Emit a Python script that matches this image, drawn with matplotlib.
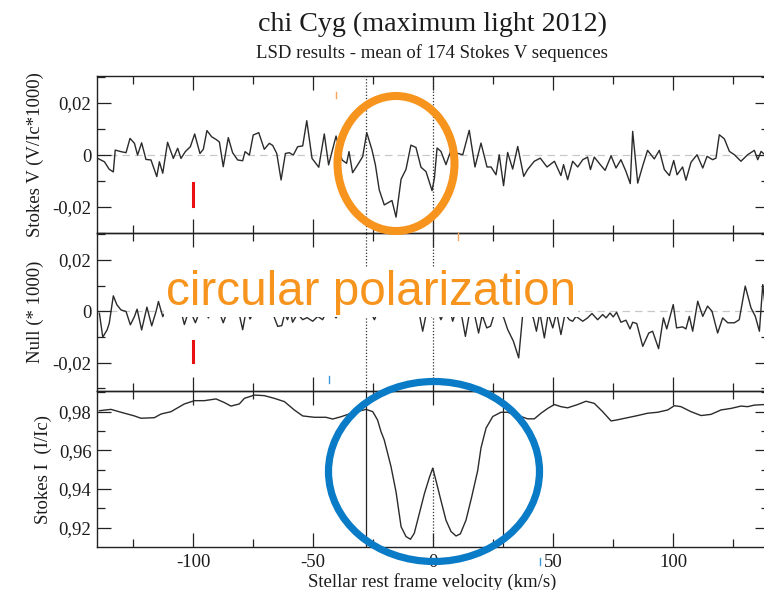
import matplotlib
matplotlib.use("Agg")
import matplotlib.pyplot as plt
from matplotlib.patches import Ellipse
from matplotlib.lines import Line2D
from matplotlib.ticker import FixedLocator, FixedFormatter

# ---------------------------------------------------------------- data
# Stokes V profile (velocity in km/s, signal in units of 1e-3)
stokes_v_vel = [
    -139.7, -136.9, -134.9, -133.2, -132.4, -130.0, -127.9, -126.25, -124.4, -123.1,
    -121.4, -119.6, -117.5, -115.1, -114.0, -112.6, -110.6, -108.2, -106.4, -105.0,
    -103.2, -101.1, -99.3, -97.1, -95.7, -94.2, -92.2, -90.4, -89.0, -87.4,
    -85.3, -83.5, -81.4, -79.3, -78.3, -76.5, -74.9, -72.6, -70.3, -68.2,
    -66.8, -65.1, -63.3, -61.5, -59.9, -58.2, -56.4, -54.3, -52.6, -50.4,
    -47.6, -45.3, -43.5, -40.4, -37.9, -36.0, -35.0, -33.5, -31.4, -29.3,
    -27.6, -25.4, -24.0, -22.4, -20.3, -17.1, -15.4, -13.3, -11.25, -9.2,
    -7.1, -5.0, -2.9, -0.4, 0.6, 1.7, 3.3, 5.4, 7.8, 9.6,
    12.4, 15.1, 17.5, 20.0, 22.5, 24.2, 26.25, 27.6, 29.4, 31.1,
    33.2, 35.3, 37.8, 39.4, 42.2, 44.7, 47.5, 50.6, 53.3, 54.4,
    56.1, 58.2, 60.3, 62.4, 64.4, 65.6, 67.2, 69.7, 71.7, 74.2,
    76.25, 78.3, 80.4, 82.2, 83.2, 85.3, 87.4, 89.4, 92.2, 94.3,
    96.4, 98.5, 100.3, 101.7, 104.0, 105.4, 107.5, 110.0, 112.4, 114.2,
    116.5, 117.9, 119.3, 121.4, 123.5, 125.6, 128.3, 131.1, 133.9, 135.3,
    136.7, 138.3,
]
stokes_v_val = [
    -1.3, -2.6, -5.5, -6.5, 1.9, 1.3, 0.9, 6.4, 4.5, 0.0,
    4.7, -1.7, -1.9, -8.3, -2.6, -7.0, 4.9, -1.3, 2.6, -1.3,
    1.3, 3.2, 8.1, 0.6, 2.2, 9.4, 7.0, 6.0, 5.0, -4.5,
    6.7, 0.9, -1.9, -2.2, 1.3, 0.0, 7.7, 8.6, 2.2, 4.5,
    3.7, 0.6, -9.6, 0.6, 0.9, 0.0, 3.2, 3.5, 13.2, -1.3,
    -4.7, 8.1, -3.8, 7.3, -1.9, -3.2, 1.3, -6.8, -3.8, -0.6,
    8.6, 1.9, -3.8, -13.4, -19.2, -17.5, -23.9, -9.3, -5.5, 3.8,
    2.9, -4.7, -6.4, -13.7, -8.8, 2.7, 1.4, -3.7, 2.7, 0.8,
    0.1, 9.5, -4.6, 4.6, -4.6, -4.6, -7.6, 0.1, -11.8, 1.0,
    -5.4, 3.3, -8.2, -5.6, -2.4, -1.2, -4.6, -2.4, -7.9, -3.7,
    -9.5, -2.4, -4.6, -1.8, -0.8, -5.6, -0.8, -3.7, -5.9, -0.3,
    -5.0, -1.8, -6.3, -11.0, 9.1, -10.8, -4.1, 1.8, -1.5, 1.8,
    -5.6, -7.9, -2.1, -7.6, -4.6, -9.7, -2.8, 0.1, -5.0, -0.5,
    -1.8, -1.2, 7.8, 6.2, 1.4, 0.1, -2.4, 0.1, 1.8, -1.8,
    1.4, 0.1,
]

# Null profile (velocity in km/s, signal in units of 1e-3)
null_vel = [
    -139.0, -137.6, -135.8, -134.9, -133.2, -131.7, -130.0, -127.9, -126.1, -124.4,
    -123.3, -121.4, -119.2, -117.2, -115.4, -114.4, -112.6, -110.5, -108.0, -105.5,
    -103.6, -101.5, -99.0, -97.0, -95.5, -93.6, -91.5, -89.5, -87.4, -85.5,
    -83.0, -81.0, -79.3, -77.8, -76.2, -74.0, -72.0, -70.0, -68.0, -66.5,
    -64.7, -63.0, -61.8, -60.6, -59.5, -58.5, -56.5, -54.3, -52.5, -50.1,
    -48.0, -46.0, -44.0, -42.0, -40.4, -38.0, -36.0, -34.0, -32.0, -30.0,
    -28.0, -26.3, -24.4, -22.5, -20.5, -18.8, -17.1, -15.0, -13.0, -11.0,
    -9.0, -7.0, -5.7, -4.3, -2.5, -0.6, 1.5, 3.3, 5.5, 7.0,
    8.2, 10.0, 11.5, 13.5, 15.5, 17.0, 19.0, 20.5, 22.4, 24.0,
    26.0, 28.0, 29.5, 31.1, 33.5, 35.7, 37.4, 39.5, 41.8, 43.1,
    44.5, 46.4, 48.0, 49.9, 51.5, 53.3, 55.0, 56.8, 58.2, 59.6,
    62.4, 64.4, 66.25, 68.6, 70.7, 72.1, 73.75, 75.1, 76.5, 78.3,
    80.4, 82.1, 83.2, 84.9, 87.4, 89.9, 91.5, 94.0, 96.0, 97.4,
    100.1, 101.5, 104.0, 105.4, 106.8, 108.2, 110.3, 112.4, 114.4, 116.25,
    118.6, 120.7, 122.8, 125.6, 127.6, 130.1, 132.5, 134.3, 136.0, 137.4,
    138.4,
]
null_val = [
    -0.8, -10.1, -7.3, -4.7, 6.0, 2.5, 0.5, -0.1, -5.3, -2.1,
    0.8, -7.3, 1.6, -5.7, -0.1, 3.8, -2.1, 1.5, -1.0, 2.0,
    -5.2, 1.0, -4.5, 0.5, 1.8, -2.6, 1.5, 0.8, -4.5, 0.5,
    1.5, 0.0, -7.2, 0.5, -3.0, 1.0, 2.0, 0.5, 1.0, -1.5,
    -5.9, -5.6, -1.0, -3.3, 0.0, -4.3, -1.0, -3.3, -2.5, -3.9,
    -2.0, -3.3, 0.5, -0.5, -2.6, 1.0, 2.0, 0.5, 1.5, 0.0,
    1.0, 0.0, -3.3, 1.0, 0.0, 1.0, -2.0, 1.0, 0.5, 1.5,
    0.0, 1.0, -1.0, -7.8, 0.5, -2.2, 1.0, -3.3, 1.5, 0.5,
    -3.9, 1.5, 0.5, -9.8, 1.0, 0.0, -8.5, -1.5, -6.5, -5.8,
    0.5, 0.0, -2.6, -7.1, -11.7, -18.2, -1.0, 1.0, -2.6, -7.8,
    -0.5, -10.4, -1.0, -6.5, -0.5, -9.1, -1.0, -3.3, -3.9, -2.0,
    -3.9, -2.6, -0.9, -3.3, -1.3, -2.6, -0.7, -2.2, -0.4, -4.3,
    -3.5, -6.9, -4.3, -4.8, -13.7, -8.5, -7.8, -14.6, -2.6, -6.9,
    2.6, -6.5, -6.1, -6.9, -2.0, -7.8, 3.9, -2.0, 2.0, 0.0,
    -8.5, -2.6, -4.5, -4.5, -3.3, 9.8, 1.3, -2.0, -7.8, 10.4,
    1.9,
]

# Stokes I profile (velocity in km/s, I/Ic)
stokes_i_vel = [
    -139.0, -134.2, -130.0, -124.4, -121.7, -116.1, -113.3, -109.2, -103.6, -99.4,
    -95.3, -90.4, -86.9, -84.2, -80.7, -78.6, -74.4, -70.3, -66.1, -61.9,
    -57.8, -54.3, -49.4, -44.6, -41.8, -38.3, -32.8, -27.9, -25.1, -23.1,
    -21.7, -20.3, -17.5, -15.4, -13.3, -11.25, -9.4, -7.8, -5.7, -3.6,
    -1.5, -0.1, 1.25, 3.3, 5.4, 7.5, 9.6, 11.4, 13.75, 16.1,
    18.6, 20.0, 22.1, 24.9, 28.3, 31.1, 33.9, 36.7, 39.4, 42.2,
    45.0, 47.8, 50.6, 53.3, 56.1, 60.3, 63.75, 67.2, 70.7, 74.2,
    76.9, 81.1, 85.3, 89.4, 93.6, 97.8, 100.6, 103.3, 107.5, 111.7,
    115.8, 120.0, 124.2, 128.3, 131.1, 133.9, 138.1,
]
stokes_i_val = [
    0.9805, 0.9812, 0.9797, 0.9778, 0.9766, 0.9769, 0.9788, 0.9800, 0.9840, 0.9857,
    0.9857, 0.9866, 0.9847, 0.9829, 0.9840, 0.9869, 0.9886, 0.9883, 0.9869, 0.9852,
    0.9809, 0.9778, 0.9771, 0.9771, 0.9762, 0.9774, 0.9797, 0.9812, 0.9800, 0.9757,
    0.9698, 0.9653, 0.9516, 0.9385, 0.9205, 0.9154, 0.9140, 0.9171, 0.9273, 0.9375,
    0.9460, 0.9508, 0.9443, 0.9341, 0.9239, 0.9180, 0.9157, 0.9168, 0.9239, 0.9358,
    0.9494, 0.9613, 0.9715, 0.9775, 0.9797, 0.9797, 0.9783, 0.9775, 0.9763, 0.9763,
    0.9792, 0.9817, 0.9837, 0.9826, 0.9820, 0.9837, 0.9854, 0.9843, 0.9800, 0.9752,
    0.9758, 0.9769, 0.9780, 0.9792, 0.9797, 0.9809, 0.9831, 0.9826, 0.9800, 0.9780,
    0.9786, 0.9809, 0.9817, 0.9829, 0.9826, 0.9834, 0.9837,
]

# integration window limits and line centre (km/s)
window_lo = -28.0
window_hi = 29.0
line_centre = 0.0
centre_intensity = 0.9508

# axis ticks
vel_major = [-100, -50, 0, 50, 100]
vel_major_labels = ["-100", "-50", "0", "50", "100"]
vel_minor = [-125, -75, -25, 25, 75, 125]
pol_major = [-0.02, 0.0, 0.02]
pol_major_labels = ["-0,02", "0", "0,02"]
pol_minor = [-0.03, -0.01, 0.01, 0.03]
int_major = [0.92, 0.94, 0.96, 0.98]
int_major_labels = ["0,92", "0,94", "0,96", "0,98"]
int_minor = [0.93, 0.95, 0.97, 0.99]

# ---------------------------------------------------------------- style
plt.rcParams["font.family"] = ["Liberation Serif", "DejaVu Serif"]
W, H = 764, 590
fig = plt.figure(figsize=(W / 100, H / 100), dpi=100)
fig.patch.set_facecolor("white")

LINE = "#2b2b2b"
TXT = "#1c1c1c"
ORANGE = "#F7941D"
BLUE = "#0A7BC6"


def rect(left, top, right, bottom):
    return [left / W, 1 - bottom / H, (right - left) / W, (bottom - top) / H]


def style_axes(ax, ylim, ymaj, ylab, ymin, show_x):
    ax.set_xlim(-140, 140)
    ax.set_ylim(*ylim)
    ax.xaxis.set_major_locator(FixedLocator(vel_major))
    ax.xaxis.set_minor_locator(FixedLocator(vel_minor))
    ax.xaxis.set_major_formatter(FixedFormatter(vel_major_labels if show_x else [""] * 5))
    ax.yaxis.set_major_locator(FixedLocator(ymaj))
    ax.yaxis.set_minor_locator(FixedLocator(ymin))
    ax.yaxis.set_major_formatter(FixedFormatter(ylab))
    ax.tick_params(which="both", direction="in", top=True, right=True,
                   width=0.9, color="#222222", labelcolor=TXT, labelsize=13.5)
    ax.tick_params(which="major", length=10, pad=4)
    ax.tick_params(which="minor", length=6)
    ax.tick_params(axis="x", which="major", pad=5)
    for s in ax.spines.values():
        s.set_linewidth(1.0)
        s.set_color("#222222")
    ax.set_facecolor("none")


# ---------------------------------------------------------------- Stokes V
ax_v = fig.add_axes(rect(97, 76, 769, 233))
style_axes(ax_v, (-0.030, 0.0304), pol_major, pol_major_labels, pol_minor, False)
ax_v.axhline(0, color="#c8c8c8", lw=0.9, ls=(0, (6, 4)), zorder=1)
for x in (window_lo, line_centre):
    ax_v.axvline(x, color="#333333", lw=0.9, ls=(0, (1, 1.5)), zorder=2)
ax_v.plot(stokes_v_vel, [v * 1e-3 for v in stokes_v_val], color=LINE, lw=1.0, zorder=3)
ax_v.plot([-100, -100], [-0.0108, -0.0196], color="#e81010", lw=2.2, zorder=4)
ax_v.plot([-40.4, -40.4], [0.0242, 0.0219], color="#f6a55a", lw=1.0, zorder=4)
ax_v.set_ylabel("Stokes V (V/Ic*1000)", fontsize=13.5, color=TXT)
ax_v.yaxis.set_label_coords(-0.079, 0.5)

# ---------------------------------------------------------------- Null
ax_n = fig.add_axes(rect(97, 233, 769, 391))
style_axes(ax_n, (-0.0311, 0.0305), pol_major, pol_major_labels, pol_minor, False)
ax_n.axhline(0, color="#c8c8c8", lw=0.9, ls=(0, (6, 4)), zorder=1)
for x in (window_lo, line_centre):
    ax_n.axvline(x, color="#333333", lw=0.9, ls=(0, (1, 1.5)), zorder=2)
ax_n.plot(null_vel, [v * 1e-3 for v in null_val], color=LINE, lw=1.0, zorder=3)
ax_n.plot([-100, -100], [-0.0115, -0.0196], color="#e81010", lw=2.2, zorder=4)
ax_n.plot([10.4, 10.4], [0.0305, 0.0278], color="#f6a55a", lw=1.0, zorder=4, clip_on=False)
ax_n.plot([-43.3, -43.3], [-0.0252, -0.0280], color="#3a9ad9", lw=1.0, zorder=4)
ax_n.set_ylabel("Null (* 1000)", fontsize=13.5, color=TXT)
ax_n.yaxis.set_label_coords(-0.079, 0.5)

# ---------------------------------------------------------------- Stokes I
ax_i = fig.add_axes(rect(97, 391, 769, 547))
style_axes(ax_i, (0.910, 0.9907), int_major, int_major_labels, int_minor, True)
for x in (window_lo, window_hi):
    ax_i.axvline(x, color="#222222", lw=0.9, zorder=2)
ax_i.plot([line_centre, line_centre], [0.910, centre_intensity], color="#333333",
          lw=0.9, ls=(0, (1, 1.5)), zorder=2)
ax_i.plot(stokes_i_vel, stokes_i_val, color=LINE, lw=1.0, zorder=3)
ax_i.set_ylabel("Stokes I  (I/Ic)", fontsize=13.5, color=TXT)
ax_i.yaxis.set_label_coords(-0.067, 0.5)

fig.text(432 / W, 1 - 587 / H, "Stellar rest frame velocity (km/s)", ha="center",
         va="baseline", fontsize=13.5, color=TXT)
fig.add_artist(Line2D([540 / W, 540 / W], [1 - 558 / H, 1 - 565 / H],
                      color="#3a9ad9", lw=1.0, transform=fig.transFigure))

# ---------------------------------------------------------------- titles
fig.text(432 / W, 1 - 31 / H, "chi Cyg (maximum light 2012)", ha="center",
         va="baseline", fontsize=20.2, color=TXT)
fig.text(432 / W, 1 - 58 / H, "LSD results - mean of 174 Stokes V sequences",
         ha="center", va="baseline", fontsize=13.5, color=TXT)

# ---------------------------------------------------------------- highlights
fig.text(166 / W, 1 - 305 / H, "circular polarization", ha="left", va="baseline",
         fontsize=34.3, color=ORANGE, family=["Liberation Sans", "DejaVu Sans"],
         bbox=dict(facecolor="white", edgecolor="none", pad=1.5), zorder=5)
fig.add_artist(Ellipse((396 / W, 1 - 163.5 / H), 117 / W, 135 / H,
                       transform=fig.transFigure, fill=False, ec=ORANGE, lw=5.8, zorder=10))
fig.add_artist(Ellipse((434 / W, 1 - 471.5 / H), 211 / W, 180 / H,
                       transform=fig.transFigure, fill=False, ec=BLUE, lw=5.2, zorder=10))

fig.savefig("out.png", dpi=100, facecolor="white")
